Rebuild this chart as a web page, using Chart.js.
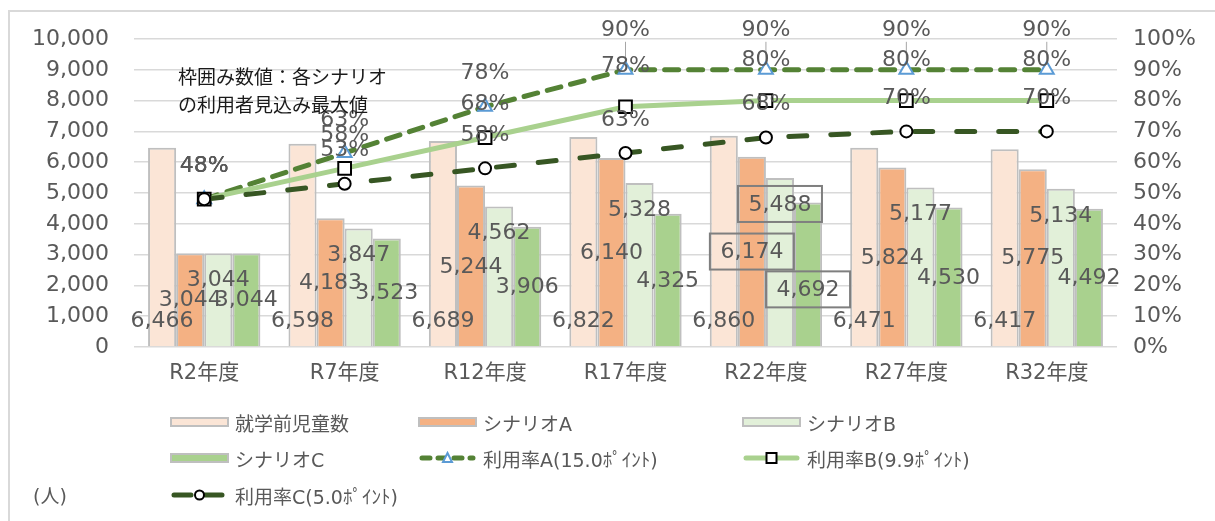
<!DOCTYPE html>
<html lang="ja">
<head>
<meta charset="utf-8">
<script src="https://cdn.jsdelivr.net/npm/chart.js@4.4.3/dist/chart.umd.min.js"></script>
<style>
  html, body { margin: 0; padding: 0; background: #fff; }
  body { width: 1215px; height: 521px; overflow: hidden; position: relative;
         font-family: "DejaVu Sans", "Noto Sans CJK JP", sans-serif; color: #595959; }
  #frame { position: absolute; left: 8px; top: 10px; width: 1400px; height: 700px;
           border: 2px solid #d9d9d9; box-sizing: border-box; }
  canvas { position: absolute; left: 0; top: 0; }
  .item { position: absolute; display: flex; align-items: center; height: 30px;
          font-size: 19px; white-space: nowrap; }
  .item svg { margin-right: 6px; }
  #unit { position: absolute; left: 33px; top: 481px; font-size: 19px; }
</style>
</head>
<body>
<div id="frame"></div>
<canvas id="c" width="1215" height="521"></canvas>
<div id="legend"></div>
<div id="unit">(人)</div>
<script>
// ---- data ----
const years = ["R2年度", "R7年度", "R12年度", "R17年度", "R22年度", "R27年度", "R32年度"];
const children  = [6466, 6598, 6689, 6822, 6860, 6471, 6417];
const scenarioA = [3044, 4183, 5244, 6140, 6174, 5824, 5775];
const scenarioB = [3044, 3847, 4562, 5328, 5488, 5177, 5134];
const scenarioC = [3044, 3523, 3906, 4325, 4692, 4530, 4492];
const rateA = [48, 63, 78, 90, 90, 90, 90];
const rateB = [48, 58, 68, 78, 80, 80, 80];
const rateC = [48, 53, 58, 63, 68, 70, 70];
const leftTicks = { min: 0, max: 10000, step: 1000 };
const rightTicks = { min: 0, max: 100, step: 10 };
const note = ["枠囲み数値：各シナリオ", "の利用者見込み最大値"];
// boxed labels = max users per scenario (dataset index, category index)
const boxed = [{ ds: 1, i: 4 }, { ds: 2, i: 4 }, { ds: 3, i: 4, dy: 15 }];

const TEXT = "#595959";
const GRID = "#d9d9d9";
const EDGE = "#bfbfbf";
const NUM_FAMILY = "'DejaVu Sans', 'Noto Sans CJK JP'";
const NUM_FONT = "22px " + NUM_FAMILY;
const fmt = (v) => v.toLocaleString("en-US");

const bar = (label, data, color, labelAt) => ({
  type: "bar", label, data, backgroundColor: color, borderColor: EDGE, borderWidth: 2,
  yAxisID: "y", order: 3, categoryPercentage: 0.8, barPercentage: 1, labelAt,
});
const line = (label, data, color, dash, marker, order, legendDash) => ({
  type: "line", label, data, yAxisID: "y2", order, borderColor: color, borderWidth: 5,
  borderDash: dash, borderCapStyle: "round", tension: 0, ...marker,
  pointBackgroundColor: "#fff", pointBorderWidth: 2, marker, legendDash,
});

const datasets = [
  bar("就学前児童数", children, "#fbe5d6", "base"),
  bar("シナリオA", scenarioA, "#f4b183", "center"),
  bar("シナリオB", scenarioB, "#e2f0d9", "end"),
  bar("シナリオC", scenarioC, "#a9d18e", "center"),
  line("利用率A(15.0ﾎﾟｲﾝﾄ)", rateA, "#548235", [14, 10], { pointStyle: "triangle", pointRadius: 8, pointBorderColor: "#5b9bd5" }, 2, "8 8"),
  line("利用率B(9.9ﾎﾟｲﾝﾄ)", rateB, "#a9d18e", [], { pointStyle: "rect", pointRadius: 9, pointBorderColor: "#000" }, 1, ""),
  line("利用率C(5.0ﾎﾟｲﾝﾄ)", rateC, "#375623", [18, 24], { pointStyle: "circle", pointRadius: 6, pointBorderColor: "#000" }, 0, "17 14"),
];

// data labels, boxes and the note text
const labelPlugin = {
  id: "labels",
  afterDatasetsDraw(chart) {
    const ctx = chart.ctx;
    ctx.save();
    ctx.font = NUM_FONT;
    ctx.fillStyle = TEXT;
    ctx.textAlign = "center";
    ctx.textBaseline = "middle";
    chart.data.datasets.forEach((ds, di) => {
      const meta = chart.getDatasetMeta(di);
      meta.data.forEach((el, i) => {
        const v = ds.data[i];
        let x = el.x, y;
        if (ds.type === "bar") {
          if (ds.labelAt === "base") y = el.base - 26;
          else if (ds.labelAt === "end") y = el.y + 26;
          else y = (el.y + el.base) / 2;
          const b = boxed.find((o) => o.ds === di && o.i === i);
          if (b) {
            y += b.dy || 0;
            ctx.strokeStyle = "#7f7f7f";
            ctx.lineWidth = 2;
            ctx.strokeRect(x - 42, y - 18, 84, 36);
          }
          ctx.fillText(fmt(v), x, y + 1);
        } else {
          // the flat top values sit a bit higher in the original
          const off = i >= 3 && di >= 4 && di <= 5 ? 40 : 33;
          if (off === 40 && di === 4) {
            // thin leader line from label to marker
            ctx.strokeStyle = "#a6a6a6";
            ctx.lineWidth = 1;
            ctx.beginPath();
            ctx.moveTo(x, el.y - off + 12);
            ctx.lineTo(x, el.y - 9);
            ctx.stroke();
          }
          ctx.fillText(v + "%", x, el.y - off);
        }
      });
    });
    ctx.fillStyle = "#1a1a1a";
    ctx.textAlign = "left";
    ctx.font = "19px 'Noto Sans CJK JP'";
    note.forEach((t, k) => ctx.fillText(t, 178, 77 + k * 28));
    ctx.restore();
  },
};

new Chart(document.getElementById("c"), {
  data: { labels: years, datasets },
  plugins: [labelPlugin],
  options: {
    responsive: false,
    animation: false,
    layout: { padding: { top: 39, left: 0, right: 0, bottom: 0 } },
    plugins: { legend: { display: false }, tooltip: { enabled: false } },
    scales: {
      x: {
        grid: { display: false, drawTicks: false }, border: { display: false },
        ticks: { color: TEXT, padding: 14, font: { family: NUM_FAMILY, size: 21 } },
        afterFit: (s) => { s.height = 174; },
      },
      y: {
        position: "left", min: leftTicks.min, max: leftTicks.max,
        grid: { color: GRID, lineWidth: 1.5, drawTicks: false }, border: { display: false },
        ticks: { stepSize: leftTicks.step, padding: 25, color: TEXT, callback: (v) => fmt(v),
                 font: { family: NUM_FAMILY, size: 22 } },
        afterFit: (s) => { s.width = 134; },
      },
      y2: {
        position: "right", min: rightTicks.min, max: rightTicks.max,
        grid: { display: false, drawTicks: false }, border: { display: false },
        ticks: { stepSize: rightTicks.step, padding: 16, color: TEXT, callback: (v) => v + "%",
                 font: { family: NUM_FAMILY, size: 22 } },
        afterFit: (s) => { s.width = 98; },
      },
    },
  },
});

// legend laid out in Excel-like columns
const legendCols = [170, 418, 742];
const legendRows = [422, 458, 495];
function symbol(ds) {
  if (ds.type === "bar") {
    return `<svg width="59" height="14"><rect x="1" y="3" width="57" height="8" fill="${ds.backgroundColor}" stroke="${EDGE}" stroke-width="2"/></svg>`;
  }
  const dash = ds.legendDash ? `stroke-dasharray="${ds.legendDash}"` : "";
  const m = ds.marker;
  let mk;
  if (m.pointStyle === "triangle") mk = `<polygon points="29.5,2 34,11 25,11" fill="#fff" stroke="${m.pointBorderColor}" stroke-width="2"/>`;
  else if (m.pointStyle === "rect") mk = `<rect x="24.5" y="2" width="10" height="10" fill="#fff" stroke="#000" stroke-width="2"/>`;
  else mk = `<circle cx="29.5" cy="7" r="4.5" fill="#fff" stroke="#000" stroke-width="2"/>`;
  return `<svg width="59" height="14"><line x1="4" y1="7" x2="55" y2="7" stroke="${ds.borderColor}" stroke-width="5" stroke-linecap="round" ${dash}/>${mk}</svg>`;
}
const legend = document.getElementById("legend");
datasets.forEach((ds, k) => {
  const d = document.createElement("div");
  d.className = "item";
  d.style.left = legendCols[k % 3] + "px";
  d.style.top = (legendRows[Math.floor(k / 3)] - 15) + "px";
  d.innerHTML = symbol(ds) + `<span>${ds.label}</span>`;
  legend.appendChild(d);
});
</script>
</body>
</html>
